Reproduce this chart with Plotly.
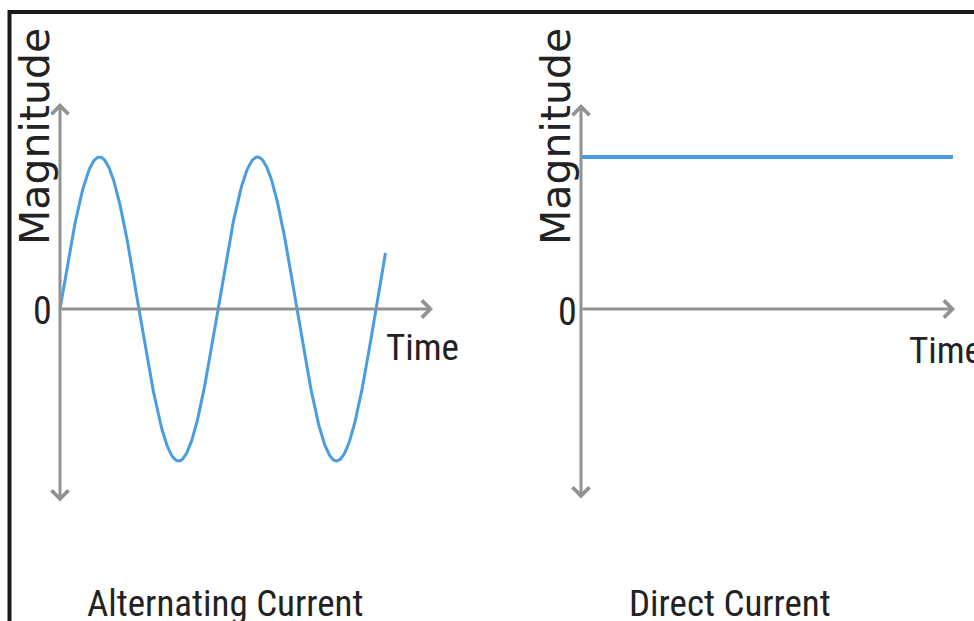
import numpy as np
import plotly.graph_objects as go

# ---- data ----
ac_time = np.linspace(0, 2.06, 400)          # time in periods
ac_magnitude = np.sin(2 * np.pi * ac_time)    # sine wave, amplitude 1
dc_time = [0.0, 2.354]
dc_magnitude = [1.0, 1.0]
panel_titles = ["Alternating Current", "Direct Current"]
axis_label_x = "Time"
axis_label_y = "Magnitude"
zero_label = "0"

W, H = 974, 621
BLUE = "#4a9de0"
GRAY = "#929292"
NARROW = "Liberation Sans Narrow, Arial Narrow, Roboto Condensed, Open Sans"

fig = go.Figure()
fig.add_trace(go.Scatter(x=ac_time, y=ac_magnitude, mode="lines",
                         line=dict(color=BLUE, width=3), xaxis="x", yaxis="y",
                         hoverinfo="skip"))
fig.add_trace(go.Scatter(x=dc_time, y=dc_magnitude, mode="lines",
                         line=dict(color=BLUE, width=4), xaxis="x2", yaxis="y2",
                         hoverinfo="skip"))

# pixel mapping: left origin (60,309), right origin (581,309); 158 px per period, 152 px per unit
sx, sy = 158.0, 152.0
split = 487
ax_common = dict(visible=False, showgrid=False, zeroline=False, fixedrange=True)
yr = [-(H - 309) / sy, 309 / sy]
fig.update_layout(
    width=W, height=H, margin=dict(l=0, r=0, t=0, b=0),
    paper_bgcolor="white", plot_bgcolor="white", showlegend=False,
    xaxis=dict(domain=[0, split / W], range=[(0 - 60) / sx, (split - 60) / sx], **ax_common),
    yaxis=dict(domain=[0, 1], range=yr, **ax_common),
    xaxis2=dict(domain=[split / W, 1], range=[(split - 581) / sx, (W - 581) / sx], anchor="y2", **ax_common),
    yaxis2=dict(domain=[0, 1], range=yr, anchor="x2", **ax_common),
)

anns = []
def arrow(xref, yref, x0, y0, x1, y1, both=False):
    anns.append(dict(x=x1, y=y1, ax=x0, ay=y0, xref=xref, yref=yref,
                     axref=xref, ayref=yref, showarrow=True, text="",
                     arrowhead=4, arrowsize=1.1, arrowwidth=3, arrowcolor=GRAY,
                     arrowside="end+start" if both else "end"))

# left axes
arrow("x", "y", 0, -(503 - 309) / sy, 0, (309 - 103) / sy, both=True)
arrow("x", "y", 0, 0, (433 - 60) / sx, 0)
# right axes
arrow("x2", "y2", 0, -(500 - 309) / sy, 0, (309 - 104) / sy, both=True)
arrow("x2", "y2", 0, 0, (955 - 581) / sx, 0)

def label(xref, yref, x, y, text, size, family, angle=0, color="#222222", weight="normal"):
    anns.append(dict(x=x, y=y, xref=xref, yref=yref, text=text, showarrow=False,
                     textangle=angle, xanchor="center", yanchor="middle",
                     font=dict(size=size, family=family, color=color, weight=weight)))

# zero labels
label("x", "y", (42 - 60) / sx, (309 - 311) / sy, zero_label, 38, NARROW)
label("x2", "y2", (567 - 581) / sx, (309 - 312) / sy, zero_label, 38, NARROW)
# Time labels
label("x", "y", (422 - 60) / sx, (309 - 347) / sy, axis_label_x, 37, NARROW)
label("x2", "y2", (945 - 581) / sx, (309 - 350) / sy, axis_label_x, 37, NARROW)
# Magnitude labels
label("x", "y", (35 - 60) / sx, (309 - 137) / sy, axis_label_y, 41, "DejaVu Sans", angle=-90)
label("x2", "y2", (556 - 581) / sx, (309 - 137) / sy, axis_label_y, 41, "DejaVu Sans", angle=-90)
# panel titles
label("x", "y", (225 - 60) / sx, (309 - 603) / sy, panel_titles[0], 37, NARROW)
label("x2", "y2", (730 - 581) / sx, (309 - 603) / sy, panel_titles[1], 37, NARROW)

fig.update_layout(annotations=anns)

# frame lines (top and left)
fig.add_shape(type="line", xref="paper", yref="paper", x0=8 / W, x1=1.01, y0=1 - 12 / H, y1=1 - 12 / H,
              line=dict(color="#1a1a1a", width=4))
fig.add_shape(type="line", xref="paper", yref="paper", x0=9.5 / W, x1=9.5 / W, y0=-0.01, y1=1 - 10 / H,
              line=dict(color="#1a1a1a", width=4))

fig.write_html("out.html", config={"displayModeBar": False},
               post_script="document.body.style.margin='0';document.body.style.overflow='hidden';")
